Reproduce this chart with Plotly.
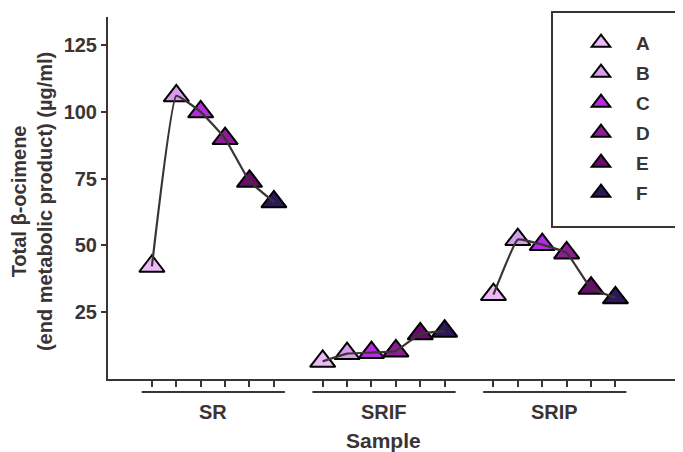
import plotly.graph_objects as go

samples = ["SR", "SRIF", "SRIP"]
letters = ["A", "B", "C", "D", "E", "F"]
sr_values = [42.2, 106.0, 100.0, 90.0, 74.0, 66.3]
srif_values = [6.6, 9.5, 9.9, 10.5, 16.9, 17.9]
srip_values = [31.6, 52.2, 50.3, 47.2, 34.0, 30.4]
letter_colors = ["#EDB8F7", "#D69DEE", "#B52BE0", "#8E1D95", "#6A0A6F", "#2C1857"]
y_ticks = [25, 50, 75, 100, 125]

series = [sr_values, srif_values, srip_values]
group_step = len(letters) + 1
positions = [[g * group_step + i for i in range(len(letters))] for g in range(len(samples))]

FONT = "Liberation Sans, Arial, sans-serif"
INK = "#3A3434"

fig = go.Figure()

# markers per letter (legend entries)
for li, letter in enumerate(letters):
    fig.add_trace(go.Scatter(
        x=[positions[g][li] for g in range(len(samples))],
        y=[series[g][li] for g in range(len(samples))],
        mode="markers",
        name=letter,
        legendgroup=letter,
        marker=dict(symbol="triangle-up", size=22, color=letter_colors[li],
                    line=dict(color="black", width=2)),
    ))

# connecting lines per sample (drawn over markers)
for g, s in enumerate(samples):
    fig.add_trace(go.Scatter(
        x=positions[g], y=series[g], mode="lines", showlegend=False,
        line=dict(color=INK, width=2.2, shape="spline", smoothing=0.3),
        hoverinfo="skip",
    ))

all_pos = [p for grp in positions for p in grp]

# group underline and labels
for g, s in enumerate(samples):
    start, end = positions[g][0], positions[g][-1]
    fig.add_shape(type="line", xref="x", yref="paper",
                  x0=start - 0.42, x1=end + 0.45, y0=-0.036, y1=-0.036,
                  line=dict(color=INK, width=2))
    fig.add_annotation(x=(start + end) / 2, y=-0.092, xref="x", yref="paper",
                       text=s, showarrow=False, yanchor="middle",
                       font=dict(family=FONT, size=20, color=INK, weight="bold"))

mid = (positions[1][0] + positions[1][-1]) / 2
fig.add_annotation(x=mid, y=-0.17, xref="x", yref="paper", text="Sample",
                   showarrow=False, yanchor="middle",
                   font=dict(family=FONT, size=21, color=INK, weight="bold"))

fig.add_annotation(x=-0.132, y=0.489, xref="paper", yref="paper",
                   text="Total β-ocimene<br>(end metabolic product) (µg/ml)",
                   textangle=-90, showarrow=False, xanchor="center", yanchor="middle",
                   font=dict(family=FONT, size=20, color=INK, weight="bold"))

# legend frame
fig.add_shape(type="rect", xref="paper", yref="paper",
              x0=0.7722, x1=1.08, y0=0.42, y1=1.0138,
              line=dict(color=INK, width=2), fillcolor="rgba(0,0,0,0)", layer="above")

fig.update_xaxes(
    range=[-1.8, 21.77], tickvals=all_pos, ticktext=[""] * len(all_pos),
    ticks="outside", ticklen=6, tickwidth=2, tickcolor=INK,
    showline=True, linewidth=2, linecolor=INK, showgrid=False, zeroline=False,
)
fig.update_yaxes(
    range=[0, 135.5], tickvals=y_ticks, ticks="outside", ticklen=5, tickwidth=2,
    tickcolor=INK, showline=True, linewidth=2, linecolor=INK, showgrid=False,
    zeroline=False, tickfont=dict(family=FONT, size=20, color=INK, weight="bold"),
)

# the page adds an 8px body margin, so the figure is 8px smaller on each side
fig.update_layout(
    width=675, height=444,
    margin=dict(l=100, r=0, t=9, b=73),
    plot_bgcolor="white", paper_bgcolor="white",
    showlegend=True,
    legend=dict(x=(566 - 108) / 575, y=0.981, xanchor="left", yanchor="top",
                borderwidth=0, bgcolor="rgba(0,0,0,0)",
                font=dict(family=FONT, size=19, color=INK, weight="bold"),
                itemwidth=60, tracegroupgap=2.3),
)

fig.write_html("out.html")
